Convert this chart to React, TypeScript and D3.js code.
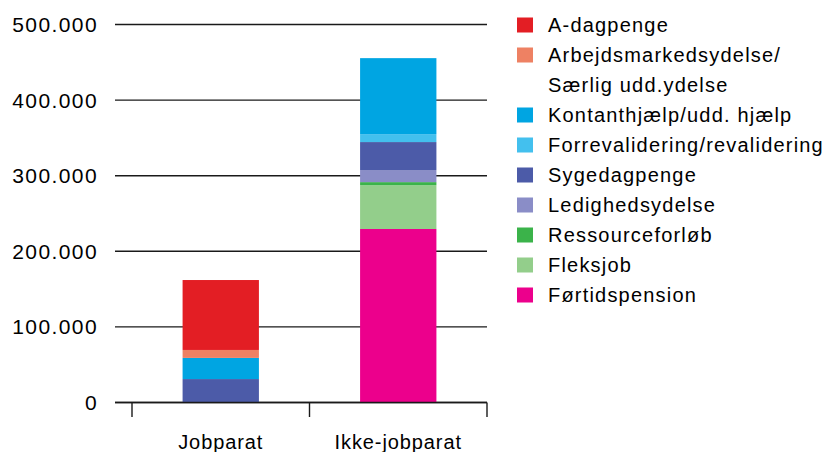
import * as d3 from "d3";

const categories = ["Jobparat", "Ikke-jobparat"];
const seriesNames = [
  "A-dagpenge",
  "Arbejdsmarkedsydelse/Særlig udd.ydelse",
  "Kontanthjælp/udd. hjælp",
  "Forrevalidering/revalidering",
  "Sygedagpenge",
  "Ledighedsydelse",
  "Ressourceforløb",
  "Fleksjob",
  "Førtidspension",
];
const legendLines = [
  ["A-dagpenge"],
  ["Arbejdsmarkedsydelse/", "Særlig udd.ydelse"],
  ["Kontanthjælp/udd. hjælp"],
  ["Forrevalidering/revalidering"],
  ["Sygedagpenge"],
  ["Ledighedsydelse"],
  ["Ressourceforløb"],
  ["Fleksjob"],
  ["Førtidspension"],
];
const colors = [
  "#e31e24",
  "#ee8163",
  "#00a5e2",
  "#43c0ee",
  "#4c5ba8",
  "#8a8dc7",
  "#3bb34a",
  "#93ce8b",
  "#ec008c",
];
// values per series, [Jobparat, Ikke-jobparat]
const aDagpenge = [92500, 0];
const arbejdsmarkedsydelse = [10500, 0];
const kontanthjaelp = [28000, 100500];
const forrevalidering = [0, 10500];
const sygedagpenge = [31000, 37000];
const ledighedsydelse = [0, 16000];
const ressourceforloeb = [0, 4000];
const fleksjob = [0, 58000];
const foertidspension = [0, 229500];
const yTicks = [0, 100000, 200000, 300000, 400000, 500000];

const W = 825;
const H = 452;
const FONT = "'Liberation Sans', Arial, Helvetica, sans-serif";

export default function App() {
  const values = [
    aDagpenge,
    arbejdsmarkedsydelse,
    kontanthjaelp,
    forrevalidering,
    sygedagpenge,
    ledighedsydelse,
    ressourceforloeb,
    fleksjob,
    foertidspension,
  ];
  const rows = categories.map((c, i) => {
    const r: any = { cat: c };
    seriesNames.forEach((s, j) => (r[s] = values[j][i]));
    return r;
  });
  // stack bottom-up: Førtidspension first
  const keys = [...seriesNames].reverse();
  const stacked = d3.stack<any>().keys(keys)(rows);

  const y = d3.scaleLinear().domain([0, 500000]).range([402.5, 24.5]);
  const x = d3
    .scaleBand()
    .domain(categories)
    .range([132, 487])
    .paddingInner(0.57)
    .paddingOuter(0.285);
  const fmt = d3.formatLocale({
    decimal: ",",
    thousands: ".",
    grouping: [3],
    currency: ["", ""],
  }).format(",");

  let legendRow = 0;
  const legendItems = legendLines.map((lines, i) => {
    const start = legendRow;
    legendRow += lines.length;
    return { lines, start, color: colors[i] };
  });

  return (
    <svg
      width={W}
      height={H}
      style={{ position: "absolute", left: 0, top: 0, background: "#fff" }}
      fontFamily={FONT}
    >
      {/* gridlines */}
      {yTicks.map((t) => (
        <line
          key={t}
          x1={115}
          x2={487}
          y1={y(t)}
          y2={y(t)}
          stroke="#1a1a1a"
          strokeWidth={1.4}
        />
      ))}
      {yTicks.map((t) => (
        <text
          key={"l" + t}
          x={98}
          y={y(t)}
          dy="0.36em"
          textAnchor="end"
          fontSize={21}
          letterSpacing={1.4}
          fill="#000"
        >
          {fmt(t)}
        </text>
      ))}
      {/* bars */}
      {stacked.map((layer) => {
        const ci = seriesNames.indexOf(layer.key);
        return layer.map((d, i) =>
          d[1] - d[0] > 0 ? (
            <rect
              key={layer.key + i}
              x={x(categories[i])}
              width={x.bandwidth()}
              y={y(d[1])}
              height={y(d[0]) - y(d[1])}
              fill={colors[ci]}
            />
          ) : null
        );
      })}
      {/* x axis */}
      <line x1={115} x2={487} y1={402.5} y2={402.5} stroke="#1a1a1a" strokeWidth={1.4} />
      {[132, 309.5, 487].map((tx) => (
        <line key={tx} x1={tx} x2={tx} y1={402.5} y2={417} stroke="#1a1a1a" strokeWidth={1.4} />
      ))}
      {categories.map((c) => (
        <text
          key={c}
          x={x(c)! + x.bandwidth() / 2}
          y={442}
          dy="0.36em"
          textAnchor="middle"
          fontSize={20}
          letterSpacing={0.9}
          fill="#000"
        >
          {c}
        </text>
      ))}
      {/* legend */}
      {legendItems.map((it, i) => (
        <g key={i}>
          <rect x={517} y={25 + it.start * 30 - 7.5} width={16} height={15} fill={it.color} />
          {it.lines.map((ln, k) => (
            <text
              key={k}
              x={548}
              y={25 + (it.start + k) * 30}
              dy="0.36em"
              fontSize={20}
              letterSpacing={1.2}
              fill="#000"
            >
              {ln}
            </text>
          ))}
        </g>
      ))}
    </svg>
  );
}
